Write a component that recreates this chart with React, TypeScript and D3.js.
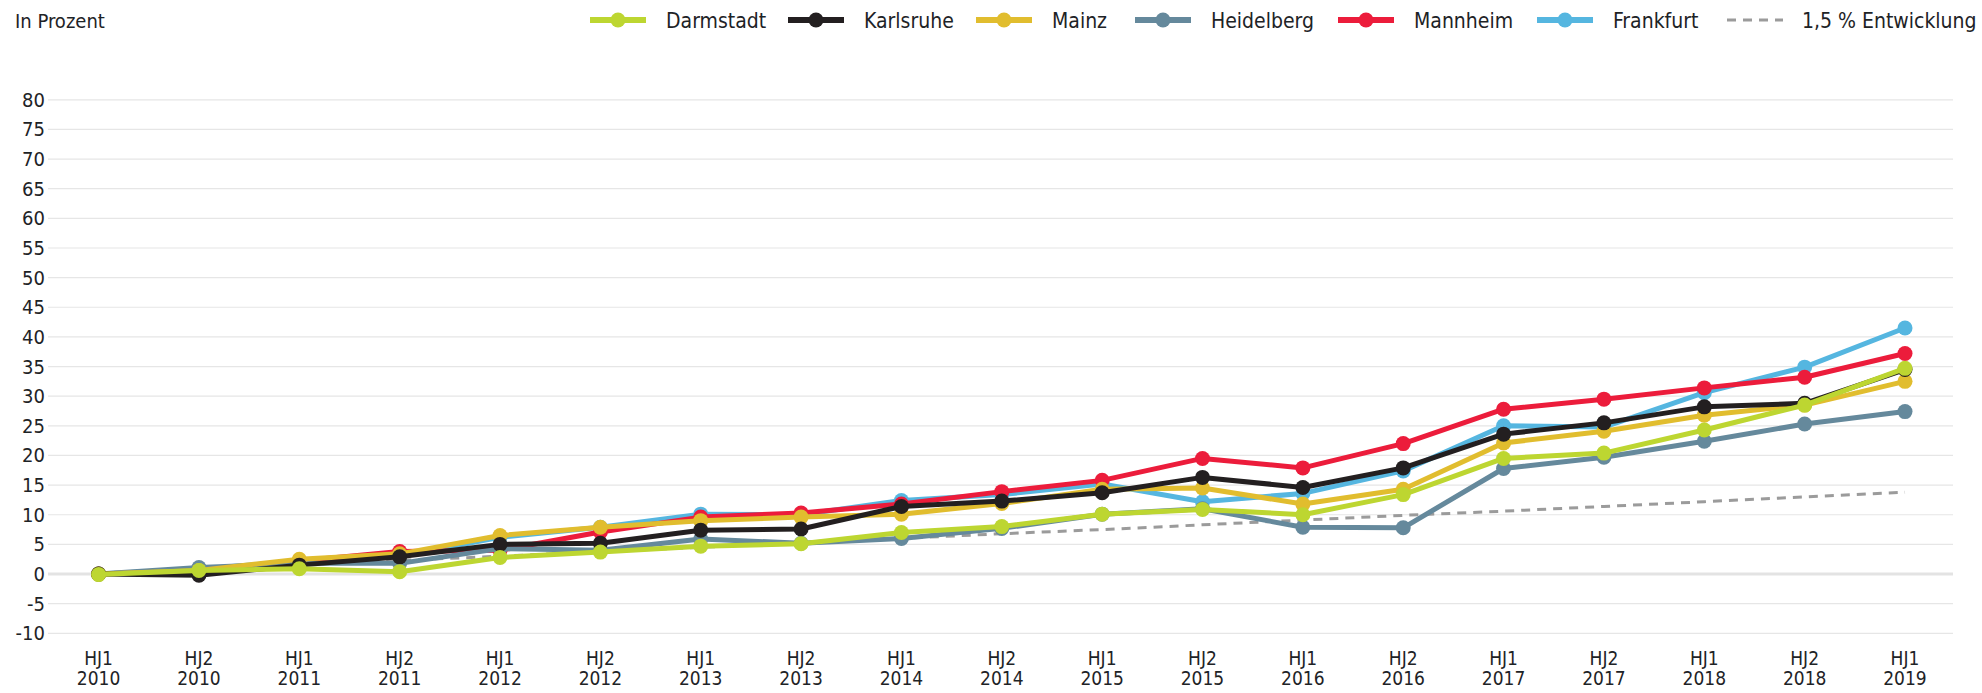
import React from "react";
import * as d3 from "d3";

const halfYears = ["HJ1","HJ2","HJ1","HJ2","HJ1","HJ2","HJ1","HJ2","HJ1","HJ2","HJ1","HJ2","HJ1","HJ2","HJ1","HJ2","HJ1","HJ2","HJ1"];
const years = ["2010","2010","2011","2011","2012","2012","2013","2013","2014","2014","2015","2015","2016","2016","2017","2017","2018","2018","2019"];
const yTicks = [-10, -5, 0, 5, 10, 15, 20, 25, 30, 35, 40, 45, 50, 55, 60, 65, 70, 75, 80];

const darmstadt = [-0.1, 0.6, 0.9, 0.4, 2.8, 3.7, 4.7, 5.1, 7.0, 8.0, 10.1, 10.9, 10.0, 13.4, 19.5, 20.4, 24.3, 28.5, 34.7];
const karlsruhe = [0, -0.2, 1.5, 2.9, 5.0, 5.2, 7.4, 7.6, 11.4, 12.3, 13.7, 16.3, 14.6, 17.9, 23.6, 25.5, 28.2, 28.8, 34.5];
const mainz = [0, 0.6, 2.5, 3.4, 6.5, 7.9, 9.0, 9.6, 10.1, 11.9, 14.3, 14.5, 11.8, 14.3, 22.1, 24.1, 26.8, 28.5, 32.5];
const heidelberg = [0, 1.1, 1.8, 1.8, 4.3, 4.0, 5.9, 5.2, 6.0, 7.7, 10.1, 11.0, 7.9, 7.8, 17.8, 19.7, 22.4, 25.3, 27.4];
const mannheim = [0, 0.6, 2.2, 3.8, 4.0, 7.1, 9.6, 10.3, 11.8, 13.9, 15.8, 19.5, 17.9, 22.0, 27.8, 29.5, 31.4, 33.2, 37.2];
const frankfurt = [0, 0.8, 2.2, 3.0, 6.2, 7.9, 10.1, 10.0, 12.4, 13.4, 15.2, 12.2, 13.6, 17.4, 25.0, 24.8, 30.6, 34.9, 41.5];
const trend = [0, 0.7, 1.5, 2.3, 3.0, 3.8, 4.5, 5.3, 6.0, 6.8, 7.5, 8.3, 9.1, 9.9, 10.6, 11.4, 12.2, 13.0, 13.8];

const seriesNames = ["Darmstadt", "Karlsruhe", "Mainz", "Heidelberg", "Mannheim", "Frankfurt"];
const seriesValues = [darmstadt, karlsruhe, mainz, heidelberg, mannheim, frankfurt];
const seriesColors = ["#bdd631", "#231f20", "#e1bd2e", "#65899c", "#ec1c3b", "#55b6e0"];
const drawOrder = [5, 4, 3, 2, 1, 0];
const trendLabel = "1,5 % Entwicklung";
const unitLabel = "In Prozent";

const W = 1982, H = 693;
const FONT = "'Liberation Sans Narrow', 'DejaVu Sans Condensed', 'Roboto', sans-serif";
const TEXT = "#1e2326";
const LEGEND_X = [590, 788, 976, 1135, 1338, 1537, 1727];

export default function App() {
  const idx = years.map((_, i) => i);
  const x = d3.scalePoint<number>().domain(idx).range([98.6, 1905]);
  const y = d3.scaleLinear().domain([-10, 80]).range([633.3, 99.8]);
  const line = d3.line<number>().x((_, i) => x(i) as number).y((d) => y(d));

  return (
    <svg width={W} height={H} style={{ position: "absolute", left: 0, top: 0, background: "#fff" }} fontFamily={FONT}>
      <text x={15} y={28} fontSize={20} fill={TEXT}>{unitLabel}</text>

      {yTicks.map((t) => (
        <g key={t}>
          <line x1={48} x2={1953} y1={y(t)} y2={y(t)} stroke={t === 0 ? "#e3e3e3" : "#e6e6e6"} strokeWidth={t === 0 ? 3 : 1.2} />
          <text x={45} y={y(t) + 7} textAnchor="end" fontSize={20} fill={TEXT}>{t}</text>
        </g>
      ))}

      {idx.map((i) => (
        <g key={i}>
          <text x={x(i)} y={665} textAnchor="middle" fontSize={19} fill={TEXT}>{halfYears[i]}</text>
          <text x={x(i)} y={685} textAnchor="middle" fontSize={19} fill={TEXT}>{years[i]}</text>
        </g>
      ))}

      <path d={line(trend) || ""} fill="none" stroke="#9b9b9b" strokeWidth={3} strokeDasharray="9,7" />

      {drawOrder.map((s) => (
        <g key={s}>
          <path d={line(seriesValues[s]) || ""} fill="none" stroke={seriesColors[s]} strokeWidth={5} strokeLinejoin="round" />
          {seriesValues[s].map((v, i) => (
            <circle key={i} cx={x(i)} cy={y(v)} r={7.5} fill={seriesColors[s]} />
          ))}
        </g>
      ))}

      {seriesNames.map((n, s) => (
        <g key={n} transform={`translate(${LEGEND_X[s]},20)`}>
          <line x1={0} x2={56} y1={0} y2={0} stroke={seriesColors[s]} strokeWidth={6} />
          <circle cx={28} cy={0} r={7.5} fill={seriesColors[s]} />
          <text x={76} y={8} fontSize={21} fill={TEXT}>{n}</text>
        </g>
      ))}
      <g transform={`translate(${LEGEND_X[6]},20)`}>
        <line x1={0} x2={56} y1={0} y2={0} stroke="#9b9b9b" strokeWidth={3} strokeDasharray="9,7" />
        <text x={75} y={8} fontSize={21} fill={TEXT}>{trendLabel}</text>
      </g>
    </svg>
  );
}
